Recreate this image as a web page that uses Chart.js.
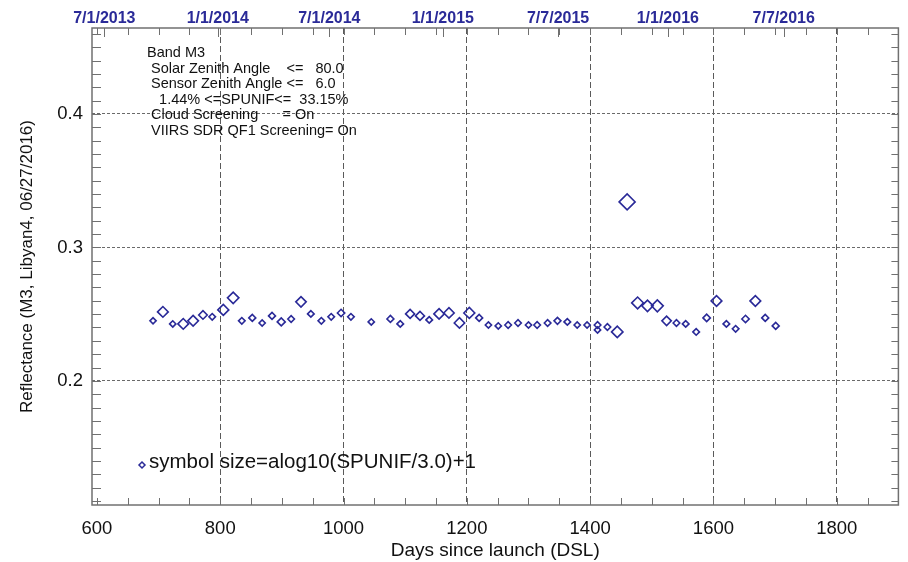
<!DOCTYPE html>
<html>
<head>
<meta charset="utf-8">
<script src="https://cdn.jsdelivr.net/npm/chart.js"></script>
<style>
  body { margin: 0; background: #fff; }
  #wrap { width: 908px; height: 562px; }
</style>
</head>
<body>
<div id="wrap"><canvas id="c" width="908" height="562"></canvas></div>
<script>
// days since launch (DSL) of each Libyan4 overpass
const dsl = [691, 707, 723, 740, 756, 772, 787, 805, 821, 835, 852, 868, 884, 899, 915, 931,
  947, 964, 980, 996, 1012, 1045, 1076, 1092, 1108, 1124, 1139, 1155, 1171, 1188, 1204, 1220,
  1235, 1251, 1267, 1283, 1300, 1314, 1331, 1347, 1363, 1379, 1395, 1412, 1412, 1428, 1444, 1460,
  1477, 1493, 1509, 1524, 1540, 1555, 1572, 1589, 1605, 1621, 1636, 1652, 1668, 1684, 1701];

// M3 TOA reflectance
const reflectance = [0.245, 0.2517, 0.2427, 0.2427, 0.245, 0.2494, 0.248, 0.2532, 0.2622, 0.245,
  0.2472, 0.2434, 0.2487, 0.2442, 0.2464, 0.2592, 0.2502, 0.245, 0.248, 0.2509, 0.248, 0.2442,
  0.2464, 0.2427, 0.2502, 0.2487, 0.2457, 0.2502, 0.2509, 0.2434, 0.2509, 0.2472, 0.2419, 0.2412,
  0.2419, 0.2434, 0.2419, 0.2419, 0.2434, 0.245, 0.2442, 0.2419, 0.2419, 0.2419, 0.2382, 0.2404,
  0.2367, 0.3341, 0.2584, 0.2562, 0.2562, 0.245, 0.2434, 0.2427, 0.2367, 0.2472, 0.2599, 0.2427,
  0.239, 0.2464, 0.2599, 0.2472, 0.2412];

// spatial non-uniformity (%) -> symbol size
const spunif = [1.8, 6.5, 1.8, 6.5, 6.5, 3.5, 2.0, 7.0, 8.0, 2.0, 2.2, 1.8, 2.2, 3.0, 2.0, 6.0,
  2.0, 2.0, 2.0, 2.5, 2.0, 1.8, 2.2, 2.0, 4.0, 4.0, 2.0, 6.0, 6.0, 6.0, 7.0, 2.2,
  1.8, 1.8, 2.0, 2.0, 1.8, 2.0, 2.0, 2.2, 2.0, 1.8, 1.8, 2.0, 1.8, 2.0, 8.0, 30.0,
  9.0, 8.0, 9.0, 4.5, 2.0, 2.0, 2.0, 2.5, 6.5, 2.0, 2.0, 2.5, 6.5, 2.2, 2.2];

const xTicks = [600, 800, 1000, 1200, 1400, 1600, 1800];
const yTicks = [0.2, 0.3, 0.4];
// calendar dates on the top axis, at their DSL
const dateTicks = [612, 796, 977, 1161, 1348, 1526, 1714];
const dateLabels = ['7/1/2013', '1/1/2014', '7/1/2014', '1/1/2015', '7/7/2015', '1/1/2016', '7/7/2016'];

const infoLines = [
  'Band M3',
  ' Solar Zenith Angle    <=   80.0',
  ' Sensor Zenith Angle <=   6.0',
  '   1.44% <=SPUNIF<=  33.15%',
  ' Cloud Screening      = On',
  ' VIIRS SDR QF1 Screening= On'
];

const FONT = '"Liberation Sans", Arial, sans-serif';
const NAVY = '#2a2a98';

const boxAndText = {
  id: 'boxAndText',
  afterDraw(chart) {
    const { ctx, chartArea: a, scales } = chart;
    const x = scales.x, y = scales.y;
    ctx.save();
    ctx.strokeStyle = '#707070';
    ctx.lineWidth = 1.5;
    ctx.strokeRect(a.left, a.top, a.right - a.left, a.bottom - a.top);

    // inward minor ticks like the IDL box
    ctx.lineWidth = 1;
    ctx.beginPath();
    for (let v = 600; v < 1900; v += 50) {
      const px = Math.round(x.getPixelForValue(v)) + 0.5;
      ctx.moveTo(px, a.bottom); ctx.lineTo(px, a.bottom - 7);
      ctx.moveTo(px, a.top); ctx.lineTo(px, a.top + 7);
    }
    dateTicks.forEach(v => {
      const px = Math.round(x.getPixelForValue(v)) + 0.5;
      ctx.moveTo(px, a.top); ctx.lineTo(px, a.top + 9);
    });
    for (let k = 11; k <= 46; k++) {
      const py = Math.round(y.getPixelForValue(k / 100)) + 0.5;
      ctx.moveTo(a.left, py); ctx.lineTo(a.left + 9, py);
      ctx.moveTo(a.right, py); ctx.lineTo(a.right - 7, py);
    }
    ctx.stroke();

    // selection criteria
    ctx.fillStyle = '#111';
    ctx.font = '14.5px ' + FONT;
    ctx.textBaseline = 'middle';
    infoLines.forEach((t, i) => ctx.fillText(t, 147, 53 + i * 15.6));

    // symbol size key
    const kx = 142, ky = 465, r = 3;
    ctx.strokeStyle = NAVY;
    ctx.lineWidth = 1.5;
    ctx.beginPath();
    ctx.moveTo(kx, ky - r); ctx.lineTo(kx + r, ky); ctx.lineTo(kx, ky + r); ctx.lineTo(kx - r, ky);
    ctx.closePath();
    ctx.stroke();
    ctx.fillStyle = '#111';
    ctx.font = '20.5px ' + FONT;
    ctx.fillText('symbol size=alog10(SPUNIF/3.0)+1', 149, 462);
    ctx.restore();
  }
};

new Chart(document.getElementById('c'), {
  type: 'scatter',
  data: {
    datasets: [{
      data: dsl.map((d, i) => ({ x: d, y: reflectance[i] })),
      pointStyle: 'rectRot',
      pointRadius: ctx => 4 * (Math.log10(spunif[ctx.dataIndex] / 3.0) + 1),
      borderColor: NAVY,
      backgroundColor: 'rgba(0,0,0,0)',
      pointBorderWidth: 1.6
    }]
  },
  options: {
    responsive: false,
    animation: false,
    events: [],
    layout: { padding: { left: 0, right: 9, top: 0, bottom: 0 } },
    plugins: { legend: { display: false }, tooltip: { enabled: false } },
    scales: {
      x: {
        type: 'linear',
        position: 'bottom',
        min: 592,
        max: 1900,
        afterBuildTicks: s => { s.ticks = xTicks.map(v => ({ value: v })); },
        afterFit: s => { s.height = 57; },
        grid: {
          drawTicks: false,
          color: c => (c.tick && c.tick.value === 600) ? 'rgba(0,0,0,0)' : '#5a5a5a',
          lineWidth: 1
        },
        border: { display: false, dash: [6, 3] },
        ticks: { padding: 13, color: '#111', font: { family: FONT, size: 18.5 }, maxRotation: 0,
          callback: v => String(v) },
        title: { display: true, text: 'Days since launch (DSL)', color: '#111',
          font: { family: FONT, size: 19 }, padding: { top: 0, bottom: 0 } }
      },
      x2: {
        type: 'linear',
        position: 'top',
        min: 592,
        max: 1900,
        afterBuildTicks: s => { s.ticks = dateTicks.map(v => ({ value: v })); },
        afterFit: s => { s.height = 28; },
        grid: { display: false, drawTicks: false },
        border: { display: false },
        ticks: { padding: 0, color: NAVY, font: { family: FONT, size: 16, weight: 'bold' },
          maxRotation: 0, autoSkip: false, callback: (v, i) => dateLabels[i] }
      },
      y: {
        type: 'linear',
        min: 0.107,
        max: 0.4644,
        afterBuildTicks: s => { s.ticks = yTicks.map(v => ({ value: v })); },
        afterFit: s => { s.width = 92; },
        grid: { drawTicks: false, color: '#6a6a6a', lineWidth: 1 },
        border: { display: false, dash: [3, 2] },
        ticks: { padding: 9, color: '#111', font: { family: FONT, size: 18.5 },
          callback: v => v.toFixed(1) },
        title: { display: true, text: 'Reflectance (M3, Libyan4, 06/27/2016)', color: '#111',
          font: { family: FONT, size: 17 }, padding: { top: 17, bottom: 0 } }
      }
    }
  },
  plugins: [boxAndText]
});
</script>
</body>
</html>
